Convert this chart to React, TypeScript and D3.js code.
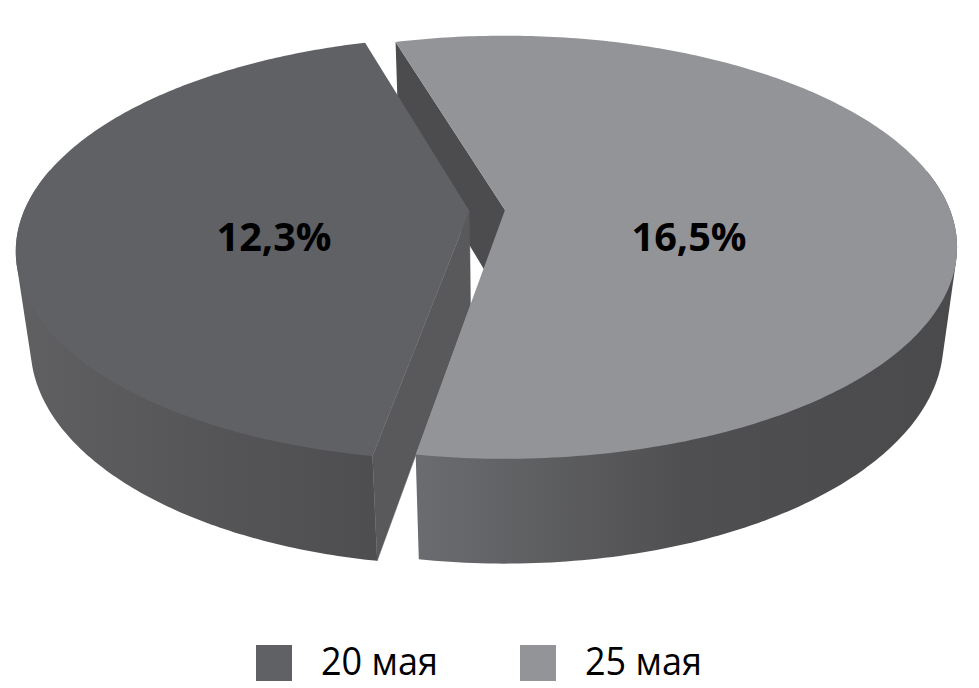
import React from "react";
import * as d3 from "d3";

const categories = ["25 мая", "20 мая"];
const values = [16.5, 12.3];
const labels = ["16,5%", "12,3%"];
const legendOrder = ["20 мая", "25 мая"];
const topColors = ["#939497", "#606165"];
const outerWallStops = [
  ["#6b6c6f", "#4f4f51", "#4a4a4c"],
  ["#606063", "#565658", "#4e4e50"],
];
const innerWallColors = ["#4c4c4e", "#59595c"];

const W = 979, H = 688;
const cx = 505, cy = 210, R = 445, Ry = 205, k = 0.176, m = 0.03, D = 97;
const explodeOffset = [0, 0.08];
const FONT = "'Open Sans', sans-serif";

type P = [number, number];
const project = (u: number, v: number, z: number): P => {
  const w = 1 / (1 - k * v + m * z);
  return [cx + R * u * w, cy + (Ry * v + D * z) * w];
};
const line = d3.line<P>().x(d => d[0]).y(d => d[1]);

const pieGen = d3.pie<number>().sort(null).startAngle(-16.7 * Math.PI / 180).endAngle((360 - 16.7) * Math.PI / 180);
const arcs = pieGen(values);

function slice(i: number) {
  const a = arcs[i];
  const mid = (a.startAngle + a.endAngle) / 2;
  const ou = Math.sin(mid) * explodeOffset[i];
  const ov = -Math.cos(mid) * explodeOffset[i];
  const pt = (t: number, z: number) => project(ou + Math.sin(t), ov - Math.cos(t), z);
  const apex = (z: number) => project(ou, ov, z);
  const angles = d3.range(0, 241).map(j => a.startAngle + (a.endAngle - a.startAngle) * j / 240);
  const top: P[] = [apex(0), ...angles.map(t => pt(t, 0))];
  const front = angles.filter(t => ov - Math.cos(t) > -0.2);
  const hull = d3.polygonHull([...front.map(t => pt(t, 0)), ...front.map(t => pt(t, 1))]) as P[];
  const startWall: P[] = [apex(0), pt(a.startAngle, 0), pt(a.startAngle, 1), apex(1)];
  return { top, hull, startWall };
}
const sB = slice(0), sA = slice(1);

const Grad = ({ id, x1, x2, stops }: { id: string; x1: number; x2: number; stops: string[] }) => (
  <linearGradient id={id} gradientUnits="userSpaceOnUse" x1={x1} x2={x2} y1={0} y2={0}>
    {stops.map((c, i) => <stop key={i} offset={i / (stops.length - 1)} stopColor={c} />)}
  </linearGradient>
);

export default function App() {
  return (
    <svg width={W} height={H} style={{ position: "absolute", left: 0, top: 0, display: "block", background: "#fff" }}>
      <defs>
        <Grad id="wallB" x1={416} x2={960} stops={outerWallStops[0]} />
        <Grad id="wallA" x1={15} x2={375} stops={outerWallStops[1]} />
      </defs>
      <path d={line(sB.hull)! + "Z"} fill="url(#wallB)" />
      <path d={line(sB.startWall)! + "Z"} fill={innerWallColors[0]} />
      <path d={line(sA.hull)! + "Z"} fill="url(#wallA)" />
      <path d={line(sA.startWall)! + "Z"} fill={innerWallColors[1]} stroke={innerWallColors[1]} strokeWidth={0.5} />
      <path d={line(sB.top)! + "Z"} fill={topColors[0]} />
      <path d={line(sA.top)! + "Z"} fill={topColors[1]} />
      <text x={689} y={251} textAnchor="middle" fontFamily={FONT} fontWeight={700} fontSize={39} fill="#000" textLength={115} lengthAdjust="spacingAndGlyphs">{labels[0]}</text>
      <text x={274} y={251} textAnchor="middle" fontFamily={FONT} fontWeight={700} fontSize={39} fill="#000" textLength={115} lengthAdjust="spacingAndGlyphs">{labels[1]}</text>
      {legendOrder.map((name, i) => {
        const x0 = i === 0 ? 256 : 520;
        const color = topColors[categories.indexOf(name)];
        return (
          <g key={name}>
            <rect x={x0} y={645} width={36} height={36} fill={color} />
            <text x={x0 + 65} y={675} fontFamily={FONT} fontSize={38} fill="#000" textLength={117} lengthAdjust="spacingAndGlyphs">{name}</text>
          </g>
        );
      })}
    </svg>
  );
}
